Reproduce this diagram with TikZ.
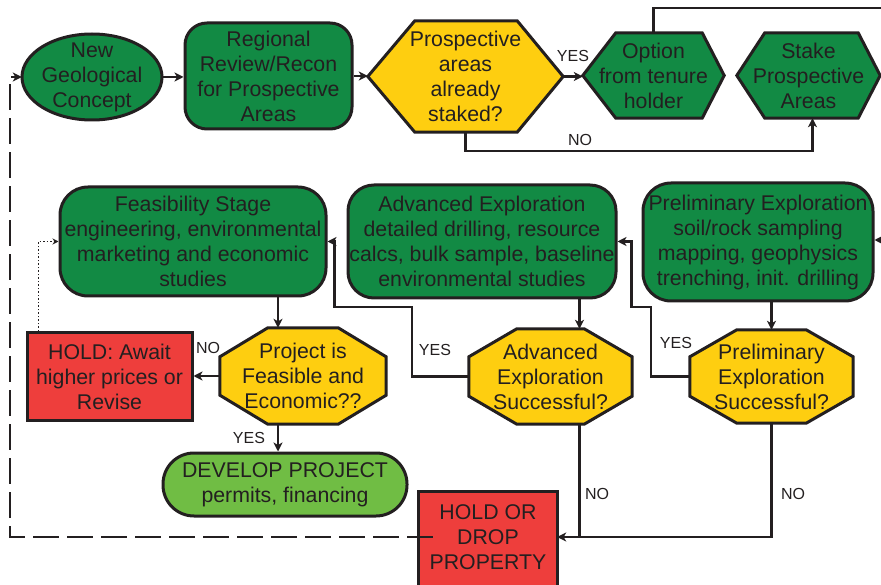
\documentclass[tikz,border=0pt]{standalone}
\usepackage{fontspec}
\setmainfont{Liberation Sans}
\usetikzlibrary{arrows.meta,calc}
\definecolor{ink}{RGB}{35,31,32}
\definecolor{gfill}{RGB}{18,138,68}
\definecolor{yfill}{RGB}{254,206,16}
\definecolor{rfill}{RGB}{238,62,60}
\definecolor{lgfill}{RGB}{112,189,68}
\pgfdeclarelayer{background}
\pgfsetlayers{background,main}
\newcommand\octshape[4]{%
  \begin{pgfonlayer}{background}
  \filldraw[shapeline, fill=#4] ([xshift=#2]#1.north west) -- ([xshift=-#2]#1.north east) -- ([yshift=-#3]#1.north east) -- ([yshift=#3]#1.south east) -- ([xshift=-#2]#1.south east) -- ([xshift=#2]#1.south west) -- ([yshift=#3]#1.south west) -- ([yshift=-#3]#1.north west) -- cycle;
  \end{pgfonlayer}}
\newcommand\hexshape[4]{%
  \begin{pgfonlayer}{background}
  \filldraw[shapeline, fill=#4] (#1.west) -- ([xshift=#2]#1.north west) -- ([xshift=-#3]#1.north east) -- (#1.east) -- ([xshift=-#3]#1.south east) -- ([xshift=#2]#1.south west) -- cycle;
  \end{pgfonlayer}}
\tikzset{
  shapeline/.style={draw=ink, line width=3pt, line join=miter},
  box/.style={shape=rectangle, inner sep=0pt, align=center, text=ink,
    font=\fontsize{21.3}{25}\selectfont},
  gbox/.style={box, draw=ink, line width=3pt, fill=gfill, rounded corners=#1},
  conn/.style={draw=ink, line width=2.5pt},
  arr/.style={conn, -{Stealth[length=9pt,width=9pt,inset=2.5pt]}},
  lab/.style={inner sep=0pt, text=ink, font=\fontsize{16}{18}\selectfont},
}
\begin{document}
\begin{tikzpicture}[x=1pt,y=-1pt]
\useasboundingbox (0,0) rectangle (881,585);

% ---- top row
\node[box, minimum width=140pt, minimum height=86pt] (geo) at (92,77) {New\\Geological\\Concept};
\begin{pgfonlayer}{background}
\filldraw[shapeline, fill=gfill] (geo.center) ellipse [x radius=70pt, y radius=43pt];
\end{pgfonlayer}
\node[gbox=22pt, minimum width=167pt, minimum height=106pt] (reg) at (268.5,76) {Regional\\Review/Recon\\for Prospective\\Areas};
\node[box, minimum width=195pt, minimum height=111pt] (pros) at (465.5,76.5) {Prospective\\areas\\already\\staked?};
\hexshape{pros}{47pt}{46pt}{yfill}
\node[box, minimum width=141pt, minimum height=85pt] (opt) at (653.5,75.5) {Option\\from tenure\\holder};
\hexshape{opt}{33pt}{22pt}{gfill}
\node[box, minimum width=143pt, minimum height=85pt] (stake) at (808.5,75.5) {Stake\\Prospective\\Areas};
\hexshape{stake}{28pt}{22pt}{gfill}

% ---- middle row
\node[gbox=28pt, minimum width=266pt, minimum height=109pt] (feas) at (193,241.5) {Feasibility Stage\\engineering, environmental\\marketing and economic\\studies};
\node[gbox=26pt, minimum width=268pt, minimum height=113pt] (adv) at (482,241.5) {Advanced Exploration\\detailed drilling, resource\\calcs, bulk sample, baseline\\environmental studies};
\node[gbox=28pt, minimum width=230pt, minimum height=118pt] (prelim) at (758,242) {Preliminary Exploration\\soil/rock sampling\\mapping, geophysics\\trenching, init. drilling};

% ---- decision row
\node[box, draw=ink, line width=3pt, fill=rfill, minimum width=165pt, minimum height=87pt] (hold1) at (109.5,376.5) {HOLD: Await\\higher prices or\\Revise};
\node[box, minimum width=166pt, minimum height=96pt] (proj) at (303,376) {Project is\\Feasible and\\Economic??};
\octshape{proj}{48pt}{29pt}{yfill}
\node[box, minimum width=163pt, minimum height=95pt] (aoct) at (550.5,376.5) {Advanced\\Exploration\\Successful?};
\octshape{aoct}{48pt}{28pt}{yfill}
\node[box, minimum width=163pt, minimum height=93pt] (poct) at (771.5,376.5) {Preliminary\\Exploration\\Successful?};
\octshape{poct}{47pt}{27pt}{yfill}

% ---- bottom row
\node[box, draw=ink, line width=3pt, fill=lgfill, rounded corners=31pt, minimum width=244pt, minimum height=63pt] (dev) at (285,484.5) {DEVELOP PROJECT\\permits, financing};
\node[box, minimum width=138pt, minimum height=90pt] (hold2) at (488,537) {HOLD OR\\DROP\\PROPERTY};
\begin{pgfonlayer}{background}
\filldraw[shapeline, fill=rfill] (hold2.north west) rectangle ([yshift=-30pt]hold2.south east);
\end{pgfonlayer}

% ---- helper coordinates
\coordinate (offA) at (890,8);
\coordinate (offB) at (890,240);
\coordinate (j1) at (412,307);
\coordinate (j2) at (651,307);
\coordinate (dl) at (10,0);
\coordinate (aoin) at ([xshift=29pt]aoct.north);
\coordinate (aoout) at ([xshift=29pt]aoct.south);
\coordinate (pjin) at ([xshift=-25pt]proj.north);
\coordinate (pjout) at ([xshift=-25pt]proj.south);

% ---- connectors, top
\draw[arr] (geo.east) -- (geo.east -| reg.west);
\draw[arr] (reg.east) -- (reg.east -| pros.west);
\draw[arr] (pros.east) -- (pros.east -| opt.west);
\node[lab] at (573,56) {YES};
\draw[conn] (opt.north) |- (offA);
\draw[arr] (pros.south) -- ++(0,19) -| ([xshift=4pt]stake.south);
\node[lab] at (580,140) {NO};

% ---- connectors, middle
\draw[arr] (offB) -- (offB -| prelim.east);
\draw[arr] (poct.north |- prelim.south) -- (poct.north);
\draw[arr] (aoin |- adv.south) -- (aoin);
\draw[arr] (pjin |- feas.south) -- (pjin);
\draw[arr] (poct.west) -| (j2) -| ([xshift=14pt]adv.east) -- (adv.east);
\node[lab] at (676,343) {YES};
\draw[arr] (aoct.west) -| (j1) -| ([xshift=7pt]feas.east) -- (feas.east);
\node[lab] at (435,350) {YES};
\draw[arr] (proj.west) -- (proj.west -| hold1.east);
\node[lab] at (208,348) {NO};
\draw[ink, line width=1.5pt, dotted, -{Stealth[length=6pt,width=6pt]}] ([xshift=13pt]hold1.north west) |- (feas.west);

% ---- connectors, bottom
\draw[arr] (pjout) -- (pjout |- dev.north);
\node[lab] at (249,438) {YES};
\draw[arr] (aoout) |- (hold2.east);
\node[lab] at (597,494) {NO};
\draw[conn] (poct.south) |- (aoout |- hold2.east);
\node[lab] at (793,494) {NO};
\draw[conn, dash pattern=on 26pt off 8pt, -{Stealth[length=9pt,width=9pt,inset=2.5pt]}] ([xshift=14pt]hold2.west) -- (hold2.west -| dl) |- (geo.west);
\end{tikzpicture}
\end{document}
